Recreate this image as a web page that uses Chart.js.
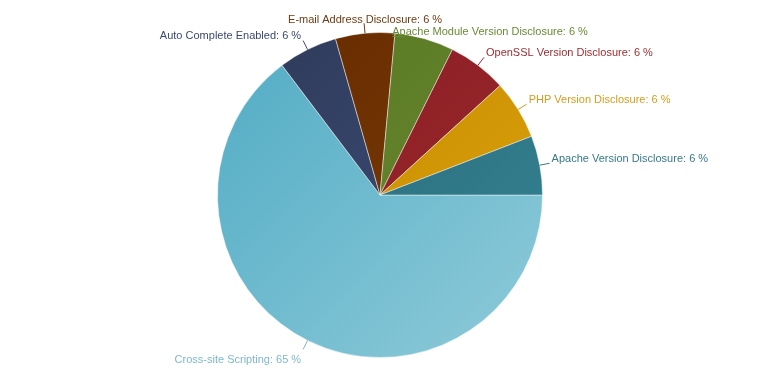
<!DOCTYPE html>
<html>
<head>
<meta charset="utf-8">
<script src="https://cdn.jsdelivr.net/npm/chart.js@4"></script>
<style>
  html, body { margin: 0; padding: 0; background: #fff; }
  #wrap { width: 760px; height: 390px; }
</style>
</head>
<body>
<div id="wrap"><canvas id="vulnChart" width="760" height="390"></canvas></div>
<script>
const categories = [
    'Cross-site Scripting',
    'Auto Complete Enabled',
    'E-mail Address Disclosure',
    'Apache Module Version Disclosure',
    'OpenSSL Version Disclosure',
    'PHP Version Disclosure',
    'Apache Version Disclosure'
];
const counts = [11, 1, 1, 1, 1, 1, 1];

// dark -> light, gradient runs top-left to bottom-right
const darkColors  = ['#5ab0c7', '#303d5d', '#682d00', '#5a7924', '#8a1f24', '#c68a00', '#2a6a7a'];
const lightColors = ['#85c6d6', '#3e4d7a', '#7b3b08', '#69892f', '#9a282c', '#d9a00a', '#338090'];
const textColors  = ['#7db9ca', '#3b4870', '#6e3a10', '#6a8a35', '#9a2d31', '#d49c1c', '#38798a'];

const total = counts.reduce((a, b) => a + b, 0);

// the one label that gets moved out of the way of its neighbour
const labelShift = { 3: [-35, 3] };

let ctx = document.getElementById('vulnChart').getContext('2d');

function sliceFill(c) {
    let chart = c.chart;
    let area = chart.chartArea;
    if (!area) return darkColors[c.dataIndex];
    let cx = (area.left + area.right) / 2;
    let cy = (area.top + area.bottom) / 2;
    let r = Math.min(area.right - area.left, area.bottom - area.top) / 2;
    let g = chart.ctx.createLinearGradient(cx - r * 0.7, cy - r * 0.7, cx + r * 0.7, cy + r * 0.7);
    g.addColorStop(0, darkColors[c.dataIndex]);
    g.addColorStop(1, lightColors[c.dataIndex]);
    return g;
}

let pieLabels = {
    id: 'pieLabels',
    afterDatasetsDraw(chart) {
        let c = chart.ctx;
        let meta = chart.getDatasetMeta(0);
        c.save();
        c.font = '11px "Liberation Sans", Arial, sans-serif';
        c.lineWidth = 1;
        meta.data.forEach((arc, i) => {
            let p = arc.getProps(['x', 'y', 'startAngle', 'endAngle', 'outerRadius']);
            let a = (p.startAngle + p.endAngle) / 2;
            let dx = Math.cos(a), dy = Math.sin(a);
            let x0 = p.x + dx * p.outerRadius, y0 = p.y + dy * p.outerRadius;
            let x1 = p.x + dx * (p.outerRadius + 10), y1 = p.y + dy * (p.outerRadius + 10);
            let text = categories[i] + ': ' + Math.round(counts[i] / total * 100) + ' %';
            let tx, ty, align;
            if (Math.abs(dx) < 0.2) {
                align = 'center'; tx = x1 + 1; ty = y1 - 3;
            } else if (dx > 0) {
                align = 'left'; tx = x1 + 2; ty = y1 - 4;
            } else {
                align = 'right'; tx = x1 - 2; ty = dy > 0 ? y1 + 11 : y1 - 5;
            }
            c.strokeStyle = textColors[i];
            c.fillStyle = textColors[i];
            c.beginPath();
            if (labelShift[i]) {
                align = 'left';
                tx = x1 + labelShift[i][0];
                ty = y1 + labelShift[i][1];
                c.moveTo(tx, ty + 4.5);
                c.lineTo(tx + 13, ty + 4.5);
            } else {
                c.moveTo(x0, y0);
                c.lineTo(x1, y1);
            }
            c.stroke();
            c.textAlign = align;
            c.textBaseline = 'middle';
            c.fillText(text, tx, ty);
        });
        c.restore();
    }
};

let vulnPie = new Chart(ctx, {
    type: 'pie',
    data: {
        labels: categories,
        datasets: [{
            data: counts,
            backgroundColor: sliceFill,
            borderColor: 'rgba(255,255,255,0.45)',
            borderWidth: 1
        }]
    },
    options: {
        responsive: false,
        animation: false,
        rotation: 90,
        layout: { padding: { top: 32, bottom: 32, left: 0, right: 0 } },
        plugins: {
            legend: { display: false },
            tooltip: { enabled: false }
        }
    },
    plugins: [pieLabels]
});
</script>
</body>
</html>
